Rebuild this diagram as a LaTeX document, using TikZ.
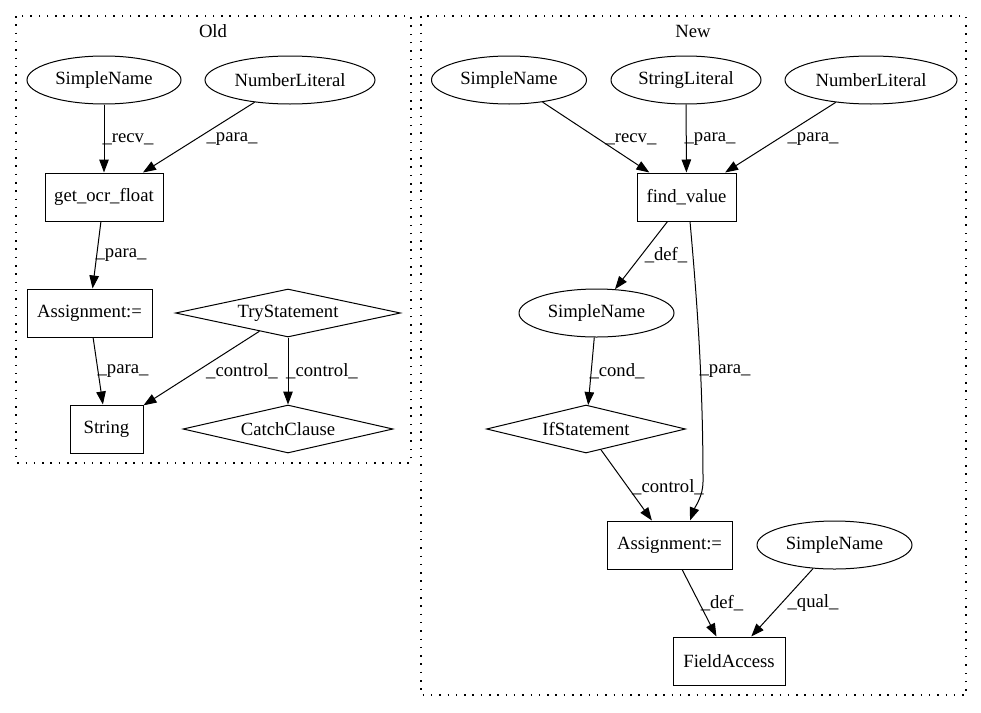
\documentclass[tikz,border=0pt]{standalone}
\usepackage{fontspec}
\setmainfont{Liberation Serif}
\usetikzlibrary{shapes.geometric,arrows.meta}
\begin{document}
\begin{tikzpicture}[x=1pt,y=-1pt,
  every node/.style={font=\fontsize{18.67}{22}\selectfont},
  ell/.style={ellipse,draw,line width=1pt,minimum height=48pt,inner sep=0pt},
  boxn/.style={rectangle,draw,line width=1pt,minimum height=48pt,inner sep=0pt},
  dia/.style={diamond,draw,line width=1pt,minimum height=48pt,inner sep=0pt,shape aspect=4.5},
  edge/.style={draw,line width=1pt,-{Triangle[length=13pt,width=9.5pt]}},
  lbl/.style={inner sep=0pt},
  clus/.style={draw,line width=1.1pt,dash pattern=on 1.5pt off 6.8pt}]
\useasboundingbox (0,0) rectangle (981,712);
\fill[white] (0,0) rectangle (981,712);
% clusters
\draw[clus] (16,16) rectangle (411,463);
\draw[clus] (421,16) rectangle (966,695);
\node (toldt) at (213,31) {Old};
\node (tnewt) at (693,31) {New};
% Old nodes
\node[ell,minimum width=154pt] (osn) at (104,80) {SimpleName};
\node[ell,minimum width=170pt] (onl) at (290,80) {NumberLiteral};
\node[boxn,minimum width=118pt] (ogf) at (104,197) {get\_ocr\_float};
\node[boxn,minimum width=125pt] (oas) at (89.5,313) {Assignment:=};
\node[dia,minimum width=225pt] (otry) at (288,313) {TryStatement};
\node[boxn,minimum width=73pt] (ostr) at (106.5,429) {String};
\node[dia,minimum width=210pt] (ocat) at (288,429) {CatchClause};
% Old edges
\draw[edge] (osn) -- (ogf) node[lbl] (l1) at (128,139) {\_recv\_};
\draw[edge] (onl) -- (ogf) node[lbl] (l2) at (232,139) {\_para\_};
\draw[edge] (ogf) -- (oas) node[lbl] (l3) at (121,255) {\_para\_};
\draw[edge] (oas) -- (ostr) node[lbl] (l4) at (123,371) {\_para\_};
\draw[edge] (otry) -- (ostr) node[lbl] (l5) at (242,371) {\_control\_};
\draw[edge] (otry) -- (ocat) node[lbl] (l6) at (322,371) {\_control\_};
% New nodes
\node[ell,minimum width=155pt] (nsn) at (509,80) {SimpleName};
\node[ell,minimum width=150pt] (nsl) at (686,80) {StringLiteral};
\node[ell,minimum width=172pt] (nnl) at (871,80) {NumberLiteral};
\node[boxn,minimum width=99pt] (nfv) at (686.5,197) {find\_value};
\node[ell,minimum width=155pt] (nsm) at (596.5,313) {SimpleName};
\node[dia,minimum width=199pt] (nif) at (586,429) {IfStatement};
\node[boxn,minimum width=125pt] (nas) at (669.5,545) {Assignment:=};
\node[ell,minimum width=155pt] (nsr) at (834.5,545) {SimpleName};
\node[boxn,minimum width=112pt] (nfa) at (729,661) {FieldAccess};
% New edges
\draw[edge] (nsn) -- (nfv) node[lbl] (l7) at (631,139) {\_recv\_};
\draw[edge] (nsl) -- (nfv) node[lbl] (l8) at (710,139) {\_para\_};
\draw[edge] (nnl) -- (nfv) node[lbl] (l9) at (813,139) {\_para\_};
\draw[edge] (nfv) -- (nsm) node[lbl] (l10) at (666,255) {\_def\_};
\draw[edge] ([xshift=3.5pt]nfv.south) .. controls (697,300) and (703,380) .. (703,482)
   .. controls (703,496) and (695,507) .. ([xshift=20.5pt]nas.north)
   node[lbl] (l11) at (725,371) {\_para\_};
\draw[edge] (nsm) -- (nif) node[lbl] (l12) at (617,371) {\_cond\_};
\draw[edge] (nif) -- (nas) node[lbl] (l13) at (668,487) {\_control\_};
\draw[edge] (nas) -- (nfa) node[lbl] (l14) at (722,603) {\_def\_};
\draw[edge] (nsr) -- (nfa) node[lbl] (l15) at (813,603) {\_qual\_};
\end{tikzpicture}
\end{document}
